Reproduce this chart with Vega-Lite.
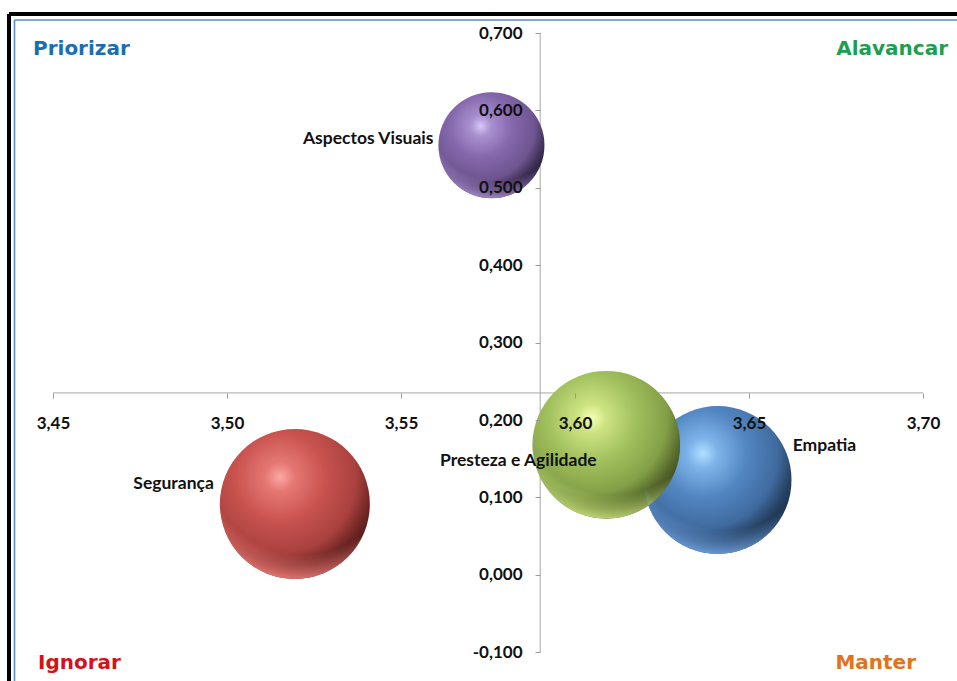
{
  "$schema": "https://vega.github.io/schema/vega-lite/v6.json",
  "autosize": "none",
  "width": 948,
  "height": 667,
  "padding": {"left": 9, "top": 14, "right": 0, "bottom": 0},
  "background": "white",
  "config": {
    "view": {"stroke": null},
    "font": "Lato"
  },
  "datasets": {
    "atributos": [
      {"atributo": "Segurança", "media": 3.5195, "gap": 0.0915, "peso": 100},
      {"atributo": "Aspectos Visuais", "media": 3.576, "gap": 0.555, "peso": 50},
      {"atributo": "Empatia", "media": 3.641, "gap": 0.1225, "peso": 97},
      {"atributo": "Presteza e Agilidade", "media": 3.609, "gap": 0.168, "peso": 97}
    ],
    "quadrantes": [
      {"quadrante": "Priorizar", "lado": "esquerda", "media": 3.444253, "gap": 0.6716},
      {"quadrante": "Alavancar", "lado": "direita", "media": 3.707184, "gap": 0.6716},
      {"quadrante": "Ignorar", "lado": "esquerda", "media": 3.44569, "gap": -0.1213},
      {"quadrante": "Manter", "lado": "direita", "media": 3.697989, "gap": -0.1213}
    ],
    "unico": [{}]
  },
  "layer": [
    {
      "description": "outer frame: black edge with a thin blue inner line",
      "data": {"name": "unico"},
      "mark": {"type": "rule", "color": "#000000", "strokeWidth": 4},
      "encoding": {
        "x": {"datum": 3.437356, "type": "quantitative", "scale": {"domain": [3.437356, 3.70977], "nice": false, "zero": false}},
        "y": {"datum": 0.724548, "type": "quantitative", "scale": {"domain": [-0.137209, 0.724548], "nice": false, "zero": false}},
        "y2": {"datum": -0.137209}
      }
    },
    {
      "data": {"name": "unico"},
      "mark": {"type": "rule", "color": "#000000", "strokeWidth": 4},
      "encoding": {
        "x": {"datum": 3.437356, "type": "quantitative", "scale": {"domain": [3.437356, 3.70977], "nice": false, "zero": false}},
        "x2": {"datum": 3.70977},
        "y": {"datum": 0.724548, "type": "quantitative", "scale": {"domain": [-0.137209, 0.724548], "nice": false, "zero": false}}
      }
    },
    {
      "data": {"name": "unico"},
      "mark": {"type": "rule", "color": "#5B8BD2", "strokeWidth": 1.6},
      "encoding": {
        "x": {"datum": 3.438937, "type": "quantitative", "scale": {"domain": [3.437356, 3.70977], "nice": false, "zero": false}},
        "y": {"datum": 0.716796, "type": "quantitative", "scale": {"domain": [-0.137209, 0.724548], "nice": false, "zero": false}},
        "y2": {"datum": -0.137209}
      }
    },
    {
      "data": {"name": "unico"},
      "mark": {"type": "rule", "color": "#5B8BD2", "strokeWidth": 1.6},
      "encoding": {
        "x": {"datum": 3.438937, "type": "quantitative", "scale": {"domain": [3.437356, 3.70977], "nice": false, "zero": false}},
        "x2": {"datum": 3.70977},
        "y": {"datum": 0.716796, "type": "quantitative", "scale": {"domain": [-0.137209, 0.724548], "nice": false, "zero": false}}
      }
    },
    {
      "description": "horizontal axis line crossing at gap 0,235",
      "data": {"name": "unico"},
      "mark": {"type": "rule", "color": "#A6A6A6", "strokeWidth": 1},
      "encoding": {
        "x": {"datum": 3.45, "type": "quantitative", "scale": {"domain": [3.437356, 3.70977], "nice": false, "zero": false}},
        "x2": {"datum": 3.7},
        "y": {"datum": 0.235, "type": "quantitative", "scale": {"domain": [-0.137209, 0.724548], "nice": false, "zero": false}}
      }
    },
    {
      "description": "vertical axis line crossing at mean 3,59",
      "data": {"name": "unico"},
      "mark": {"type": "rule", "color": "#A6A6A6", "strokeWidth": 1},
      "encoding": {
        "x": {"datum": 3.59, "type": "quantitative", "scale": {"domain": [3.437356, 3.70977], "nice": false, "zero": false}},
        "y": {"datum": -0.1, "type": "quantitative", "scale": {"domain": [-0.137209, 0.724548], "nice": false, "zero": false}},
        "y2": {"datum": 0.7}
      }
    },
    {
      "data": {"name": "atributos"},
      "mark": {"type": "point", "shape": "circle", "filled": true, "opacity": 1, "strokeWidth": 0},
      "encoding": {
        "x": {
          "field": "media",
          "type": "quantitative",
          "scale": {"domain": [3.437356, 3.70977], "nice": false, "zero": false},
          "axis": {
            "values": [3.45, 3.5, 3.55, 3.6, 3.65, 3.7],
            "labelExpr": "replace(format(datum.value, '.2f'), '.', ',')",
            "title": null,
            "domain": false,
            "grid": false,
            "ticks": true,
            "tickSize": 5,
            "tickColor": "#9A9A9A",
            "labelFont": "Lato",
            "labelFontWeight": "bold",
            "labelFontSize": 17,
            "labelColor": "#111111",
            "labelPadding": 17,
            "labelFlush": false,
            "labelOverlap": false,
            "offset": -288,
            "zindex": 1
          }
        },
        "y": {
          "field": "gap",
          "type": "quantitative",
          "scale": {"domain": [-0.137209, 0.724548], "nice": false, "zero": false},
          "axis": {
            "values": [-0.1, 0, 0.1, 0.2, 0.3, 0.4, 0.5, 0.6, 0.7],
            "labelExpr": "replace(replace(format(datum.value, '.3f'), '.', ','), '\u2212', '-')",
            "title": null,
            "domain": false,
            "grid": false,
            "ticks": true,
            "tickSize": 5,
            "tickColor": "#9A9A9A",
            "labelFont": "Lato",
            "labelFontWeight": "bold",
            "labelFontSize": 17,
            "labelColor": "#111111",
            "labelPadding": 13,
            "labelFlush": false,
            "labelOverlap": false,
            "offset": -531,
            "zindex": 1
          }
        },
        "size": {
          "field": "peso",
          "type": "quantitative",
          "scale": {"domain": [0, 100], "range": [0, 22500], "zero": true},
          "legend": null
        },
        "fill": {
          "condition": [
            {
              "test": "datum.atributo === 'Segurança'",
              "value": {"gradient": "radial", "x1": 0.4, "y1": 0.32, "r1": 0, "x2": 0.4, "y2": 0.32, "r2": 0.706,
                "stops": [
                  {"offset": 0, "color": "#FBA8A4"},
                  {"offset": 0.14, "color": "#E57773"},
                  {"offset": 0.42, "color": "#C9534F"},
                  {"offset": 0.72, "color": "#A9413E"},
                  {"offset": 0.88, "color": "#6E2624"},
                  {"offset": 1, "color": "#4A1816"}
                ]}
            },
            {
              "test": "datum.atributo === 'Aspectos Visuais'",
              "value": {"gradient": "radial", "x1": 0.4, "y1": 0.32, "r1": 0, "x2": 0.4, "y2": 0.32, "r2": 0.706,
                "stops": [
                  {"offset": 0, "color": "#D9C6F6"},
                  {"offset": 0.14, "color": "#A890CF"},
                  {"offset": 0.42, "color": "#8567AC"},
                  {"offset": 0.72, "color": "#6E5590"},
                  {"offset": 0.88, "color": "#3E2F54"},
                  {"offset": 1, "color": "#241A36"}
                ]}
            },
            {
              "test": "datum.atributo === 'Empatia'",
              "value": {"gradient": "radial", "x1": 0.4, "y1": 0.32, "r1": 0, "x2": 0.4, "y2": 0.32, "r2": 0.706,
                "stops": [
                  {"offset": 0, "color": "#B2E0FF"},
                  {"offset": 0.14, "color": "#7FB4EA"},
                  {"offset": 0.42, "color": "#5286C2"},
                  {"offset": 0.72, "color": "#3F6A9E"},
                  {"offset": 0.88, "color": "#253F60"},
                  {"offset": 1, "color": "#1A2E48"}
                ]}
            }
          ],
          "value": {"gradient": "radial", "x1": 0.4, "y1": 0.32, "r1": 0, "x2": 0.4, "y2": 0.32, "r2": 0.706,
            "stops": [
              {"offset": 0, "color": "#F6FFB4"},
              {"offset": 0.14, "color": "#CDE382"},
              {"offset": 0.42, "color": "#A2C05E"},
              {"offset": 0.72, "color": "#84A047"},
              {"offset": 0.88, "color": "#56692C"},
              {"offset": 1, "color": "#3C481C"}
            ]}
        }
      }
    },
    {
      "description": "soft reflected rim along the bottom of each bubble, tinted with the bubble colour",
      "data": {"name": "atributos"},
      "mark": {"type": "point", "shape": "circle", "filled": true, "opacity": 1, "strokeWidth": 0},
      "encoding": {
        "x": {"field": "media", "type": "quantitative", "scale": {"domain": [3.437356, 3.70977], "nice": false, "zero": false}},
        "y": {"field": "gap", "type": "quantitative", "scale": {"domain": [-0.137209, 0.724548], "nice": false, "zero": false}},
        "size": {
          "field": "peso",
          "type": "quantitative",
          "scale": {"domain": [0, 100], "range": [0, 22500], "zero": true},
          "legend": null
        },
        "fill": {
          "condition": [
            {
              "test": "datum.atributo === 'Segurança'",
              "value": {"gradient": "radial", "x1": 0.55, "y1": 0.2, "r1": 0, "x2": 0.55, "y2": 0.2, "r2": 0.8,
                "stops": [
                  {"offset": 0, "color": "rgba(236,122,118,0)"},
                  {"offset": 0.8, "color": "rgba(236,122,118,0)"},
                  {"offset": 1, "color": "rgba(236,122,118,0.9)"}
                ]}
            },
            {
              "test": "datum.atributo === 'Aspectos Visuais'",
              "value": {"gradient": "radial", "x1": 0.55, "y1": 0.2, "r1": 0, "x2": 0.55, "y2": 0.2, "r2": 0.8,
                "stops": [
                  {"offset": 0, "color": "rgba(168,140,208,0)"},
                  {"offset": 0.8, "color": "rgba(168,140,208,0)"},
                  {"offset": 1, "color": "rgba(168,140,208,0.9)"}
                ]}
            },
            {
              "test": "datum.atributo === 'Empatia'",
              "value": {"gradient": "radial", "x1": 0.55, "y1": 0.2, "r1": 0, "x2": 0.55, "y2": 0.2, "r2": 0.8,
                "stops": [
                  {"offset": 0, "color": "rgba(110,160,224,0)"},
                  {"offset": 0.8, "color": "rgba(110,160,224,0)"},
                  {"offset": 1, "color": "rgba(110,160,224,0.9)"}
                ]}
            }
          ],
          "value": {"gradient": "radial", "x1": 0.55, "y1": 0.2, "r1": 0, "x2": 0.55, "y2": 0.2, "r2": 0.8,
            "stops": [
              {"offset": 0, "color": "rgba(196,222,120,0)"},
              {"offset": 0.8, "color": "rgba(196,222,120,0)"},
              {"offset": 1, "color": "rgba(196,222,120,0.9)"}
            ]}
        }
      }
    },
    {
      "data": {"name": "atributos"},
      "transform": [{"filter": "datum.atributo === 'Aspectos Visuais'"}],
      "mark": {"type": "text", "align": "right", "baseline": "middle", "dx": -58, "dy": -6, "font": "Lato", "fontWeight": "bold", "fontSize": 17.5, "color": "#111111"},
      "encoding": {
        "x": {"field": "media", "type": "quantitative", "scale": {"domain": [3.437356, 3.70977], "nice": false, "zero": false}},
        "y": {"field": "gap", "type": "quantitative", "scale": {"domain": [-0.137209, 0.724548], "nice": false, "zero": false}},
        "text": {"field": "atributo"}
      }
    },
    {
      "data": {"name": "atributos"},
      "transform": [{"filter": "datum.atributo === 'Segurança'"}],
      "mark": {"type": "text", "align": "right", "baseline": "middle", "dx": -81, "dy": -20, "font": "Lato", "fontWeight": "bold", "fontSize": 17.5, "color": "#111111"},
      "encoding": {
        "x": {"field": "media", "type": "quantitative", "scale": {"domain": [3.437356, 3.70977], "nice": false, "zero": false}},
        "y": {"field": "gap", "type": "quantitative", "scale": {"domain": [-0.137209, 0.724548], "nice": false, "zero": false}},
        "text": {"field": "atributo"}
      }
    },
    {
      "data": {"name": "atributos"},
      "transform": [{"filter": "datum.atributo === 'Presteza e Agilidade'"}],
      "mark": {"type": "text", "align": "center", "baseline": "middle", "dx": -88, "dy": 16, "font": "Lato", "fontWeight": "bold", "fontSize": 17.5, "color": "#111111"},
      "encoding": {
        "x": {"field": "media", "type": "quantitative", "scale": {"domain": [3.437356, 3.70977], "nice": false, "zero": false}},
        "y": {"field": "gap", "type": "quantitative", "scale": {"domain": [-0.137209, 0.724548], "nice": false, "zero": false}},
        "text": {"field": "atributo"}
      }
    },
    {
      "data": {"name": "atributos"},
      "transform": [{"filter": "datum.atributo === 'Empatia'"}],
      "mark": {"type": "text", "align": "left", "baseline": "middle", "dx": 75, "dy": -34, "font": "Lato", "fontWeight": "bold", "fontSize": 17.5, "color": "#111111"},
      "encoding": {
        "x": {"field": "media", "type": "quantitative", "scale": {"domain": [3.437356, 3.70977], "nice": false, "zero": false}},
        "y": {"field": "gap", "type": "quantitative", "scale": {"domain": [-0.137209, 0.724548], "nice": false, "zero": false}},
        "text": {"field": "atributo"}
      }
    },
    {
      "data": {"name": "quadrantes"},
      "transform": [{"filter": "datum.lado === 'esquerda'"}],
      "mark": {"type": "text", "align": "left", "baseline": "alphabetic", "font": "DejaVu Sans", "fontWeight": "bold", "fontSize": 20},
      "encoding": {
        "x": {"field": "media", "type": "quantitative", "scale": {"domain": [3.437356, 3.70977], "nice": false, "zero": false}},
        "y": {"field": "gap", "type": "quantitative", "scale": {"domain": [-0.137209, 0.724548], "nice": false, "zero": false}},
        "text": {"field": "quadrante"},
        "color": {
          "field": "quadrante",
          "type": "nominal",
          "scale": {"domain": ["Priorizar", "Alavancar", "Ignorar", "Manter"], "range": ["#1B6DB1", "#1C9F52", "#D3121B", "#E0731C"]},
          "legend": null
        }
      }
    },
    {
      "data": {"name": "quadrantes"},
      "transform": [{"filter": "datum.lado === 'direita'"}],
      "mark": {"type": "text", "align": "right", "baseline": "alphabetic", "font": "DejaVu Sans", "fontWeight": "bold", "fontSize": 20},
      "encoding": {
        "x": {"field": "media", "type": "quantitative", "scale": {"domain": [3.437356, 3.70977], "nice": false, "zero": false}},
        "y": {"field": "gap", "type": "quantitative", "scale": {"domain": [-0.137209, 0.724548], "nice": false, "zero": false}},
        "text": {"field": "quadrante"},
        "color": {
          "field": "quadrante",
          "type": "nominal",
          "scale": {"domain": ["Priorizar", "Alavancar", "Ignorar", "Manter"], "range": ["#1B6DB1", "#1C9F52", "#D3121B", "#E0731C"]},
          "legend": null
        }
      }
    }
  ]
}
